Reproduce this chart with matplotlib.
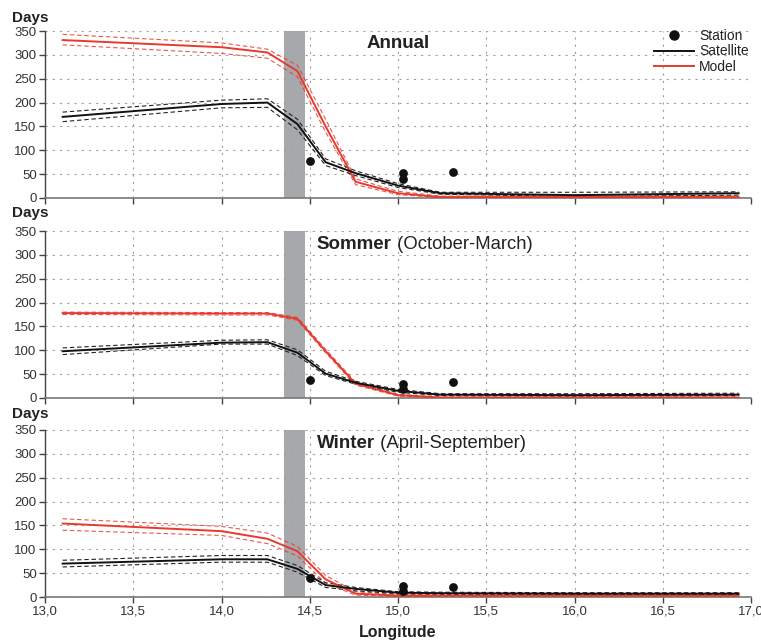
import matplotlib
matplotlib.use("Agg")
import matplotlib.pyplot as plt
from matplotlib.ticker import FuncFormatter, MultipleLocator
from matplotlib.lines import Line2D

plt.rcParams['font.family'] = ['Liberation Sans', 'DejaVu Sans']

# Longitude grid of the model/satellite profiles
lon = [13.10, 14.00, 14.26, 14.43, 14.59, 14.76, 15.00, 15.24, 16.00, 16.93]

# Annual
ann_sat = [170, 197, 200, 155, 75, 52, 26, 10, 6, 10]
ann_sat_hi = [180, 205, 208, 165, 82, 57, 30, 12, 12, 13]
ann_sat_lo = [160, 189, 190, 143, 68, 47, 22, 8, 3, 6]
ann_mod = [331, 316, 305, 266, 150, 34, 10, 2, 2, 2]
ann_mod_hi = [343, 325, 312, 278, 165, 40, 14, 4, 4, 4]
ann_mod_lo = [321, 303, 293, 254, 138, 28, 7, 1, 1, 1]

# Sommer (October-March)
som_sat = [98, 116, 117, 95, 51, 32, 15, 7, 6, 7]
som_sat_hi = [105, 121, 122, 101, 56, 35, 18, 9, 9, 10]
som_sat_lo = [91, 113, 113, 89, 47, 29, 12, 5, 4, 5]
som_mod = [178, 177, 177, 166, 98, 30, 6, 1, 1, 1]
som_mod_hi = [180, 179, 179, 169, 102, 33, 8, 2, 2, 2]
som_mod_lo = [175, 174, 174, 163, 95, 27, 4, 0, 0, 0]

# Winter (April-September)
win_sat = [70, 79, 79, 59, 25, 17, 9, 8, 7, 7]
win_sat_hi = [77, 87, 87, 66, 30, 20, 11, 10, 9, 9]
win_sat_lo = [63, 73, 73, 52, 20, 13, 7, 6, 5, 5]
win_mod = [154, 138, 122, 96, 37, 7, 3, 3, 3, 3]
win_mod_hi = [164, 148, 134, 106, 45, 11, 5, 5, 5, 5]
win_mod_lo = [140, 129, 112, 86, 29, 4, 1, 1, 1, 1]

# Stations
st_lon = [14.50, 15.03, 15.03, 15.31]
st_ann = [78, 52, 39, 54]
st_som = [38, 30, 18, 34]
st_win = [40, 23, 13, 21]

band = (14.353, 14.472)

panels = [
    ("Annual", "", ann_sat, ann_sat_hi, ann_sat_lo, ann_mod, ann_mod_hi, ann_mod_lo, st_ann),
    ("Sommer", " (October-March)", som_sat, som_sat_hi, som_sat_lo, som_mod, som_mod_hi, som_mod_lo, st_som),
    ("Winter", " (April-September)", win_sat, win_sat_hi, win_sat_lo, win_mod, win_mod_hi, win_mod_lo, st_win),
]

RED = '#e8392f'
fig = plt.figure(figsize=(7.61, 6.41), dpi=100)
W, H = 761, 641
left_px, right_px = 45, 751
tops = [31, 231, 430]
days_y = [18, 213, 414]
h_px = 167

for i, (t_bold, t_norm, sat, sat_hi, sat_lo, mod, mod_hi, mod_lo, st) in enumerate(panels):
    top = tops[i]
    ax = fig.add_axes([left_px / W, 1 - (top + h_px) / H, (right_px - left_px) / W, h_px / H])
    ax.set_xlim(13.0, 17.0)
    ax.set_ylim(0, 350)
    ax.axvspan(band[0], band[1], color='#a7a8ac', lw=0, zorder=1)
    ax.xaxis.set_major_locator(MultipleLocator(0.5))
    ax.yaxis.set_major_locator(MultipleLocator(50))
    ax.grid(True, color='#a0a0a0', linestyle=(0, (2, 4.5)), lw=0.8, zorder=0)
    for s in ['top', 'right']:
        ax.spines[s].set_visible(False)
    ax.spines['left'].set_color('#444444')
    ax.spines['bottom'].set_color('#777777')
    ax.spines['left'].set_linewidth(1.0)
    ax.spines['bottom'].set_linewidth(1.2)
    ax.tick_params(axis='both', direction='out', length=4, width=1, colors='#444444',
                   labelsize=9.5, labelcolor='#333333', pad=2)

    # model band and mean
    ax.plot(lon, mod_hi, color=RED, lw=0.8, ls=(0, (4, 2.5)), alpha=0.85, zorder=3)
    ax.plot(lon, mod_lo, color=RED, lw=0.8, ls=(0, (4, 2.5)), alpha=0.85, zorder=3)
    ax.plot(lon, mod, color=RED, lw=1.4, zorder=4)
    # satellite band and mean
    ax.plot(lon, sat_hi, color='#222222', lw=0.8, ls=(0, (4, 2.5)), zorder=3)
    ax.plot(lon, sat_lo, color='#222222', lw=0.8, ls=(0, (4, 2.5)), zorder=3)
    ax.plot(lon, sat, color='#111111', lw=1.4, zorder=5)
    # stations
    ax.scatter(st_lon, st, s=40, color='#111111', zorder=6, lw=0)

    if i < 2:
        ax.tick_params(axis='x', labelbottom=False)
    else:
        ax.xaxis.set_major_formatter(FuncFormatter(lambda v, p: f"{v:.1f}".replace('.', ',')))

    # "Days" label
    fig.text(12 / W, 1 - days_y[i] / H, "Days", fontsize=11, fontweight='bold',
             color='#222222', ha='left', va='center')

    # panel titles
    if i == 0:
        ax.text(14.82, 323, t_bold, fontsize=13.5, fontweight='bold', color='#222222',
                ha='left', va='center')
    else:
        tb = ax.text(14.54, 322, t_bold, fontsize=13.5, fontweight='bold', color='#222222',
                     ha='left', va='center')
        ax.annotate(t_norm, xycoords=tb, xy=(1, 0.5), va='center', ha='left',
                    fontsize=13.3, color='#222222')

    if i == 0:
        handles = [
            Line2D([], [], marker='o', ls='none', color='#111111', markersize=6.5),
            Line2D([], [], color='#111111', lw=1.4),
            Line2D([], [], color=RED, lw=1.4),
        ]
        leg = fig.legend(handles, ["Station", "Satellite", "Model"], loc='upper right',
                         bbox_to_anchor=(749 / W, 1 - 29 / H), frameon=False, fontsize=10,
                         handlelength=2.9, handletextpad=0.4, labelspacing=0.1,
                         borderpad=0, borderaxespad=0)
        for t in leg.get_texts():
            t.set_color('#222222')

fig.text(398 / W, 1 - 633 / H, "Longitude", fontsize=11.5, fontweight='bold',
         color='#222222', ha='center', va='center')

fig.savefig("out.png", dpi=100)
